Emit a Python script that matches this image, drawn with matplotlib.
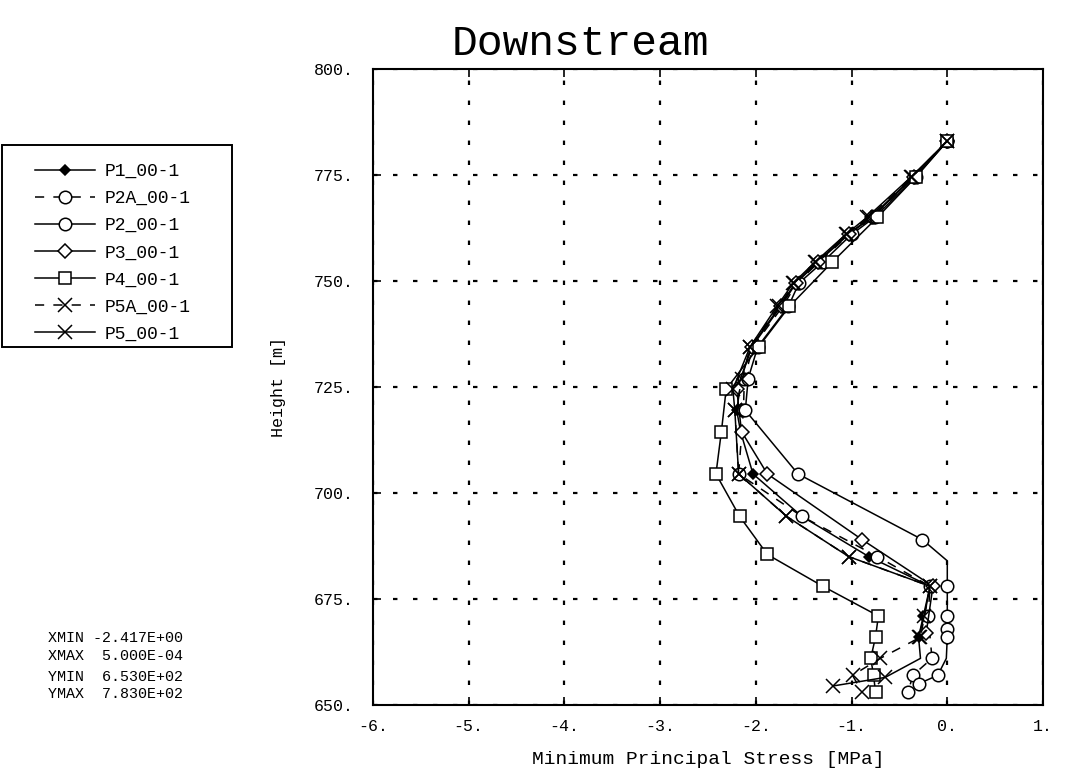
import matplotlib
matplotlib.use("Agg")
import matplotlib.pyplot as plt
from matplotlib.patches import Rectangle

plt.rcParams['font.family'] = ['Liberation Mono', 'DejaVu Sans Mono']

# ---- data (x = stress [MPa], y = height [m]) ----
p1_y = [783, 774.5, 765, 761, 754.5, 749.5, 744, 734.5, 727, 719.5, 714.5, 704.5, 694.5, 685, 678, 671, 666]
p1_x = [0.0, -0.36, -0.80, -1.04, -1.36, -1.59, -1.75, -2.05, -2.15, -2.20, -2.16, -2.03, -1.52, -0.82, -0.18, -0.25, -0.30]

p2a_y = [783, 774.5, 765, 761, 754.5, 749.5, 744, 734.5, 727, 719.5, 704.5, 694.5, 685, 678, 671, 661, 657, 653]
p2a_x = [0.0, -0.35, -0.78, -1.02, -1.34, -1.57, -1.72, -2.03, -2.12, -2.13, -2.18, -1.52, -0.73, -0.18, -0.20, -0.16, -0.36, -0.41]

p2_y = [783, 774.5, 765, 761, 754.5, 749.5, 744, 734.5, 727, 719.5, 704.5, 689, 684, 678, 671, 668, 666, 661, 657, 655]
p2_x = [0.0, -0.33, -0.76, -1.00, -1.30, -1.55, -1.66, -1.98, -2.08, -2.11, -1.56, -0.26, 0.0, 0.0, 0.0, 0.0, 0.0, -0.01, -0.10, -0.30]
p2_bends = [12, 17]   # line vertices drawn without a marker

p3_y = [783, 774.5, 765, 761, 754.5, 749.5, 744, 734.5, 724.5, 714.5, 704.5, 689, 678, 667]
p3_x = [0.0, -0.35, -0.79, -1.03, -1.35, -1.58, -1.74, -2.04, -2.20, -2.15, -1.88, -0.89, -0.15, -0.22]

p4_y = [783, 774.5, 765, 754.5, 744, 734.5, 724.5, 714.5, 704.5, 694.5, 685.5, 678, 671, 666, 661, 657, 653]
p4_x = [0.0, -0.33, -0.73, -1.20, -1.65, -1.97, -2.31, -2.36, -2.417, -2.17, -1.88, -1.30, -0.72, -0.75, -0.80, -0.77, -0.75]

p5a_y = [783, 774.5, 765, 761, 754.5, 749.5, 744, 734.5, 727, 719.5, 704.5, 694.5, 685, 678, 666, 661, 657, 653]
p5a_x = [0.0, -0.37, -0.82, -1.05, -1.37, -1.60, -1.76, -2.06, -2.14, -2.22, -2.18, -1.68, -1.03, -0.18, -0.28, -0.70, -0.99, -0.89]

p5_y = [783, 774.5, 765, 761, 754.5, 749.5, 744, 734.5, 724.5, 719.5, 704.5, 694.5, 685, 678, 671, 666, 661, 656.5, 654.5]
p5_x = [0.0, -0.38, -0.84, -1.06, -1.38, -1.61, -1.78, -2.06, -2.24, -2.22, -2.18, -1.68, -1.03, -0.18, -0.24, -0.30, -0.28, -0.65, -1.19]
p5_bends = [16]

x_ticks = [-6, -5, -4, -3, -2, -1, 0, 1]
x_ticklabels = ['-6.', '-5.', '-4.', '-3.', '-2.', '-1.', '0.', '1.']
y_ticks = [650, 675, 700, 725, 750, 775, 800]
y_ticklabels = ['650.', '675.', '700.', '725.', '750.', '775.', '800.']


def keep(n, skip=()):
    return [i for i in range(n) if i not in skip]


series = [
    ('P1_00-1', p1_x, p1_y, dict(ls='-', marker='D', mfc='black', ms=5)),
    ('P2A_00-1', p2a_x, p2a_y, dict(ls=(0, (6, 6)), marker='o', mfc='white', ms=9)),
    ('P2_00-1', p2_x, p2_y, dict(ls='-', marker='o', mfc='white', ms=9,
                                 markevery=keep(len(p2_x), p2_bends))),
    ('P3_00-1', p3_x, p3_y, dict(ls='-', marker='D', mfc='white', ms=7)),
    ('P4_00-1', p4_x, p4_y, dict(ls='-', marker='s', mfc='white', ms=9)),
    ('P5A_00-1', p5a_x, p5a_y, dict(ls=(0, (6, 6)), marker='x', mfc='none', ms=10)),
    ('P5_00-1', p5_x, p5_y, dict(ls='-', marker='x', mfc='none', ms=10,
                                 markevery=keep(len(p5_x), p5_bends))),
]

W, H = 1065, 776
fig = plt.figure(figsize=(W / 100, H / 100), dpi=100)
ax = fig.add_axes([373 / W, 1 - 705 / H, 670 / W, 636 / H])

handles = []
for name, xs, ys, st in series:
    h, = ax.plot(xs, ys, color='black', lw=1.1, mec='black', mew=1.1, label=name, **st)
    handles.append(h)

ax.set_xlim(-6, 1)
ax.set_ylim(650, 800)
ax.set_xticks(x_ticks)
ax.set_xticklabels(x_ticklabels)
ax.set_yticks(y_ticks)
ax.set_yticklabels(y_ticklabels)
ax.tick_params(axis='both', direction='in', length=6, width=1.2, labelsize=12, colors='black')
ax.tick_params(axis='x', pad=10, top=True)
ax.tick_params(axis='y', pad=14)
ax.grid(True, color='black', ls=(0, (2, 7)), lw=1.6)
for s in ax.spines.values():
    s.set_linewidth(1.5)

ax.set_xlabel('Minimum Principal Stress [MPa]', fontsize=14, labelpad=12)
ax.set_ylabel('Height [m]', fontsize=12, labelpad=20)
fig.text(580 / W, 1 - 44 / H, 'Downstream', fontsize=31, ha='center', va='center')

# legend: entries without frame, box drawn separately
leg = fig.legend(handles=handles, loc='upper left', bbox_to_anchor=(35 / W, 1 - 163 / H),
                 fontsize=13, handlelength=3.3, labelspacing=0.56, borderpad=0,
                 handletextpad=0.55, frameon=False, borderaxespad=0)
fig.add_artist(Rectangle((2 / W, 1 - 347 / H), 230 / W, 202 / H, transform=fig.transFigure,
                         fill=False, edgecolor='black', lw=1.4))

stats = ['XMIN -2.417E+00', 'XMAX  5.000E-04', 'YMIN  6.530E+02', 'YMAX  7.830E+02']
for txt, yy in zip(stats, [638, 656, 677, 694]):
    fig.text(48 / W, 1 - yy / H, txt, fontsize=10.8, ha='left', va='center')

fig.savefig('out.png', dpi=100)
